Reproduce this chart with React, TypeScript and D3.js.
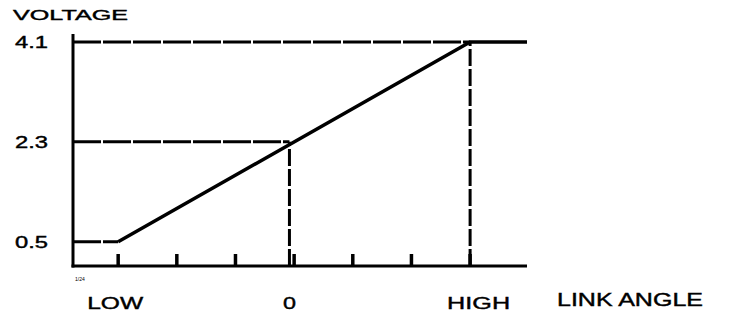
import React from "react";
import * as d3 from "d3";

const angleTicks = [0, 1, 2, 3, 4, 5, 6];
const angleLabels = [
  { pos: 0, text: "LOW" },
  { pos: 3, text: "0" },
  { pos: 6, text: "HIGH" },
];
const voltageLevels = [0.5, 2.3, 4.1];
const voltageLabels = ["0.5", "2.3", "4.1"];
// curve: [angle position, voltage]
const curveAngle = [0, 6, 6.97];
const curveVoltage = [0.5, 4.1, 4.1];
// dashed guide lines: level reached at angle position
const guideAngle = [0, 2.92, 6];
const guideVoltage = [0.5, 2.3, 4.1];

export default function App() {
  const W = 736;
  const H = 318;
  const x = d3.scaleLinear().domain([-0.77, 6.97]).range([73, 527]);
  const y = d3.scaleLinear().domain([0.062, 4.245]).range([266, 34]);
  const font = "'Liberation Sans', Arial, sans-serif";

  const line = d3
    .line<number>()
    .x((_, i) => x(curveAngle[i]))
    .y((d) => y(d));

  const [x0] = x.domain();
  const [y0, y1] = y.domain();
  const textStyle = { stroke: "#000", strokeWidth: 0.4 };

  return (
    <svg
      width={W}
      height={H}
      style={{ position: "absolute", left: 0, top: 0, background: "#fff" }}
    >
      <rect width={W} height={H} fill="#fff" />
      {/* dashed horizontal guides */}
      {guideAngle.map((a, i) => (
        <line
          key={"h" + i}
          x1={x(x0)}
          x2={x(a)}
          y1={y(guideVoltage[i])}
          y2={y(guideVoltage[i])}
          stroke="#000"
          strokeWidth={3}
          strokeDasharray="28 2"
        />
      ))}
      {/* dashed vertical guides */}
      {guideAngle.slice(1).map((a, i) => (
        <line
          key={"v" + i}
          x1={x(a)}
          x2={x(a)}
          y1={y(y0)}
          y2={y(guideVoltage[i + 1])}
          stroke="#000"
          strokeWidth={3}
          strokeDasharray="17 3"
        />
      ))}
      {/* x ticks */}
      {angleTicks.map((t) => (
        <line
          key={"t" + t}
          x1={x(t)}
          x2={x(t)}
          y1={y(y0)}
          y2={y(y0) - 12}
          stroke="#000"
          strokeWidth={3.5}
        />
      ))}
      {/* curve */}
      <path
        d={line(curveVoltage) ?? ""}
        fill="none"
        stroke="#000"
        strokeWidth={3.5}
        strokeLinejoin="miter"
      />
      {/* axes */}
      <line x1={x(x0)} x2={x(x0)} y1={y(y1)} y2={y(y0) + 1.5} stroke="#000" strokeWidth={3} />
      <line x1={x(x0) - 1.5} x2={x(6.97)} y1={y(y0)} y2={y(y0)} stroke="#000" strokeWidth={3} />
      {/* y labels */}
      {voltageLevels.map((v, i) => (
        <text
          key={"yl" + i}
          x={15}
          y={y(v) + 6}
          fontFamily={font}
          fontSize={16}
          textLength={33}
          lengthAdjust="spacingAndGlyphs"
          fill="#000"
          {...textStyle}
        >
          {voltageLabels[i]}
        </text>
      ))}
      <text
        x={13}
        y={20}
        fontFamily={font}
        fontSize={14.5}
        textLength={115}
        lengthAdjust="spacingAndGlyphs"
        fill="#000"
        {...textStyle}
      >
        VOLTAGE
      </text>
      {/* x labels */}
      {angleLabels.map((l) => (
        <text
          key={"xl" + l.pos}
          x={x(l.pos) - (l.text === "0" ? 11 : l.text === "LOW" ? 31 : 23)}
          y={309}
          fontFamily={font}
          fontSize={17}
          textLength={l.text === "0" ? 13 : l.text === "LOW" ? 56 : 63}
          lengthAdjust="spacingAndGlyphs"
          fill="#000"
          {...textStyle}
        >
          {l.text}
        </text>
      ))}
      <text
        x={557}
        y={306}
        fontFamily={font}
        fontSize={17.5}
        textLength={146}
        lengthAdjust="spacingAndGlyphs"
        fill="#000"
        {...textStyle}
      >
        LINK ANGLE
      </text>
      <text x={75} y={281} fontFamily={font} fontSize={5} fill="#000">
        1/24
      </text>
    </svg>
  );
}
